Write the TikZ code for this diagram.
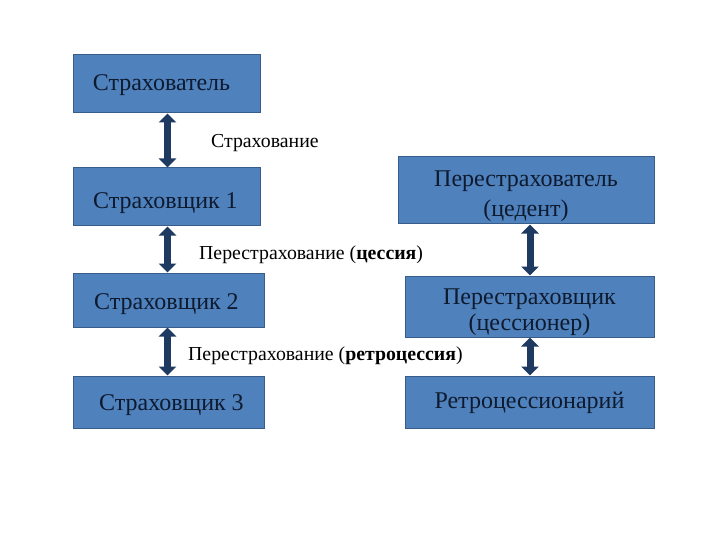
\documentclass[tikz,border=0pt]{standalone}
\usepackage{fontspec}
\setmainfont{Liberation Serif}
\usetikzlibrary{arrows.meta}
\definecolor{boxfill}{HTML}{4F81BD}
\definecolor{boxline}{HTML}{385D8A}
\definecolor{arrowc}{HTML}{1F3A60}
\definecolor{txt}{HTML}{0E1A2E}
\tikzset{
  box/.style={draw=boxline, line width=1pt, fill=boxfill, inner sep=0pt},
  boxtxt/.style={text=txt, align=center, inner sep=0pt, font=\fontsize{24}{30}\selectfont},
  dbl/.style={arrowc, line width=7pt,
    {Triangle[width=17pt,length=9pt]}-{Triangle[width=17pt,length=9pt]}},
  lbl/.style={anchor=west, inner sep=0pt, font=\fontsize{19.8}{24}\selectfont, text=black}
}
\begin{document}
\begin{tikzpicture}[x=1pt,y=-1pt]
\useasboundingbox (0,0) rectangle (720,540);
\fill[white] (0,0) rectangle (720,540);
\node[box, minimum width=187pt, minimum height=58pt] (b1) at (166.5,84) {};
\node[box, minimum width=187pt, minimum height=58pt] (b2) at (166.5,197) {};
\node[box, minimum width=191pt, minimum height=54pt] (b3) at (168.5,300) {};
\node[box, minimum width=191pt, minimum height=52pt] (b4) at (168.5,402) {};
\node[box, minimum width=256pt, minimum height=67pt] (r1) at (526,190.5) {};
\node[box, minimum width=249pt, minimum height=61pt] (r2) at (529.5,306.5) {};
\node[box, minimum width=249pt, minimum height=52pt] (r3) at (529.5,402) {};
\node[boxtxt] (b1t) at ([shift={(-5,1)}]b1.center) {Страхователь};
\node[boxtxt] (b2t) at ([shift={(-1,6)}]b2.center) {Страховщик 1};
\node[boxtxt] (b3t) at ([shift={(-2,4)}]b3.center) {Страховщик 2};
\node[boxtxt] (b4t) at ([shift={(3,3)}]b4.center) {Страховщик 3};
\node[boxtxt] (r1t) at ([shift={(0,6)}]r1.center) {Перестрахователь\\(цедент)};
\node[boxtxt, font=\fontsize{24}{26}\selectfont] (r2t) at ([shift={(0,6)}]r2.center) {Перестраховщик\\(цессионер)};
\node[boxtxt] (r3t) at ([shift={(0,1)}]r3.center) {Ретроцессионарий};
\draw[dbl] ([xshift=1pt]b1.south) -- ([xshift=1pt]b2.north);
\draw[dbl] ([xshift=1pt]b2.south) -- ([xshift=-1pt]b3.north);
\draw[dbl] ([xshift=-1pt]b3.south) -- ([xshift=-1pt]b4.north);
\draw[dbl] ([xshift=4pt]r1.south) -- ([xshift=0.5pt]r2.north);
\draw[dbl] ([xshift=0.5pt]r2.south) -- ([xshift=0.5pt]r3.north);
\node[lbl] (l1) at (211,143) {Страхование};
\node[lbl] (l2) at (199,255) {Перестрахование (\textbf{цессия})};
\node[lbl] (l3) at (188,356) {Перестрахование (\textbf{ретроцессия})};
\end{tikzpicture}
\end{document}
